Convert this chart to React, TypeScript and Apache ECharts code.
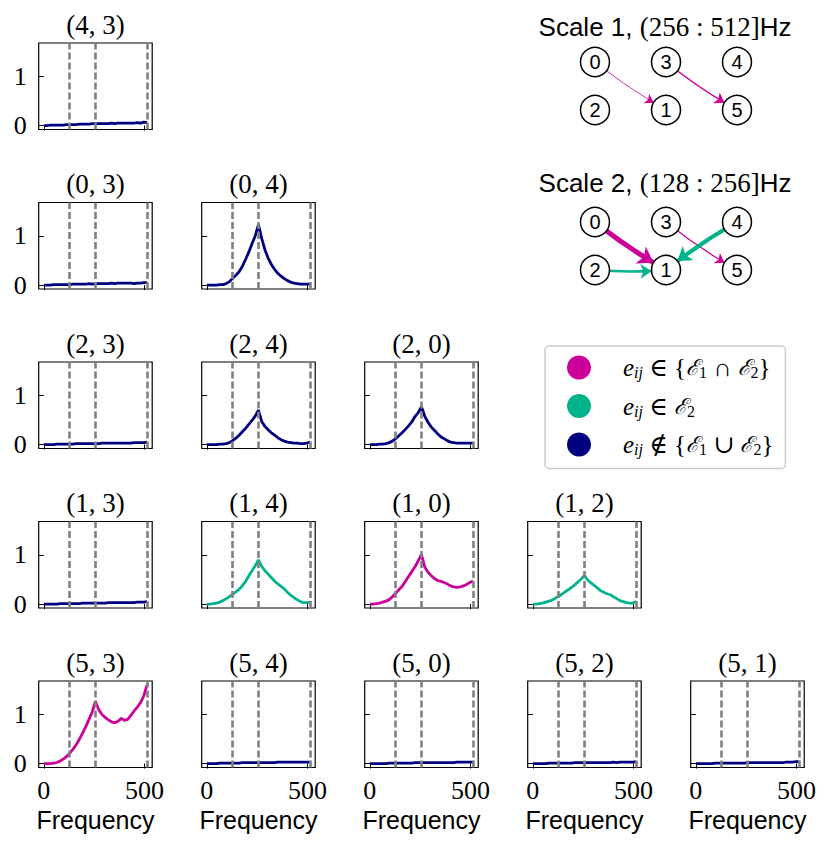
import React, { useEffect, useRef } from "react";
import * as echarts from "echarts";

// ---------- data ----------
const freqs = [0, 16, 32, 48, 64, 80, 96, 112, 128, 144, 160, 176, 192, 208, 224, 240, 256, 272, 288, 304, 320, 336, 352, 368, 384, 400, 416, 432, 448, 464, 480, 496, 512];

const s43 = [0, 0, 0.01, 0.01, 0.01, 0.01, 0.01, 0.02, 0.02, 0.02, 0.02, 0.03, 0.03, 0.03, 0.03, 0.04, 0.04, 0.04, 0.04, 0.04, 0.04, 0.05, 0.04, 0.05, 0.05, 0.05, 0.05, 0.05, 0.05, 0.06, 0.05, 0.07, 0.06];
const s03 = [0, 0, 0, 0.01, 0.01, 0.01, 0.01, 0.01, 0.01, 0.02, 0.02, 0.02, 0.02, 0.02, 0.03, 0.02, 0.03, 0.03, 0.03, 0.03, 0.03, 0.04, 0.03, 0.04, 0.04, 0.04, 0.04, 0.04, 0.03, 0.04, 0.04, 0.05, 0.05];
const s04 = [0, 0, 0, 0, 0.01, 0.01, 0.03, 0.07, 0.14, 0.2, 0.27, 0.38, 0.52, 0.67, 0.84, 1.0, 1.23, 0.95, 0.72, 0.55, 0.42, 0.32, 0.24, 0.18, 0.13, 0.09, 0.06, 0.04, 0.03, 0.02, 0.02, 0.02, 0.02];
const s23 = [0, 0, 0, 0, 0.01, 0.01, 0.01, 0.01, 0.01, 0.01, 0.02, 0.02, 0.02, 0.02, 0.02, 0.02, 0.02, 0.02, 0.03, 0.03, 0.03, 0.03, 0.03, 0.03, 0.03, 0.03, 0.03, 0.03, 0.04, 0.04, 0.04, 0.04, 0.05];
const s24 = [0, 0, 0, 0, 0.01, 0.01, 0.02, 0.04, 0.08, 0.13, 0.19, 0.26, 0.33, 0.41, 0.49, 0.58, 0.7, 0.47, 0.37, 0.3, 0.24, 0.19, 0.14, 0.1, 0.07, 0.05, 0.04, 0.03, 0.03, 0.02, 0.02, 0.03, 0.05];
const s20 = [0, 0, 0, 0.01, 0.01, 0.02, 0.04, 0.07, 0.12, 0.18, 0.24, 0.31, 0.38, 0.46, 0.57, 0.65, 0.77, 0.58, 0.46, 0.36, 0.29, 0.22, 0.16, 0.12, 0.08, 0.05, 0.04, 0.03, 0.03, 0.03, 0.03, 0.03, 0.03];
const s13 = [0, 0, 0, 0, 0, 0.01, 0.01, 0.01, 0.01, 0.01, 0.01, 0.01, 0.02, 0.02, 0.02, 0.02, 0.02, 0.02, 0.02, 0.02, 0.03, 0.03, 0.03, 0.03, 0.03, 0.03, 0.03, 0.03, 0.03, 0.04, 0.04, 0.04, 0.05];
const s14 = [0, 0, 0.01, 0.02, 0.04, 0.07, 0.11, 0.15, 0.2, 0.25, 0.3, 0.37, 0.46, 0.57, 0.68, 0.78, 0.9, 0.77, 0.68, 0.61, 0.54, 0.47, 0.41, 0.36, 0.31, 0.24, 0.18, 0.13, 0.09, 0.05, 0.03, 0.03, 0.04];
const s10 = [0, 0, 0.01, 0.02, 0.04, 0.06, 0.09, 0.15, 0.22, 0.29, 0.36, 0.46, 0.56, 0.66, 0.76, 0.88, 1.01, 0.76, 0.65, 0.58, 0.52, 0.48, 0.46, 0.44, 0.41, 0.37, 0.35, 0.34, 0.35, 0.37, 0.4, 0.44, 0.47];
const s12 = [0, 0, 0.01, 0.02, 0.04, 0.06, 0.08, 0.12, 0.16, 0.2, 0.25, 0.29, 0.34, 0.39, 0.45, 0.51, 0.58, 0.49, 0.43, 0.38, 0.33, 0.27, 0.24, 0.21, 0.19, 0.15, 0.11, 0.07, 0.05, 0.03, 0.02, 0.02, 0.05];
const s53 = [0, 0, 0, 0.01, 0.02, 0.05, 0.09, 0.14, 0.21, 0.29, 0.38, 0.49, 0.62, 0.75, 0.9, 1.05, 1.27, 1.1, 1.0, 0.94, 0.89, 0.85, 0.83, 0.86, 0.92, 0.88, 0.9, 0.98, 1.07, 1.15, 1.24, 1.38, 1.6];
const s54 = [0, 0, 0, 0, 0.01, 0.01, 0.01, 0.01, 0.01, 0.01, 0.01, 0.02, 0.02, 0.02, 0.02, 0.02, 0.02, 0.02, 0.02, 0.02, 0.02, 0.02, 0.03, 0.03, 0.03, 0.03, 0.03, 0.03, 0.03, 0.03, 0.03, 0.03, 0.03];
const s50 = [0, 0, 0, 0, 0, 0, 0.01, 0.01, 0.01, 0.01, 0.01, 0.01, 0.01, 0.01, 0.02, 0.02, 0.02, 0.02, 0.02, 0.02, 0.02, 0.02, 0.02, 0.02, 0.02, 0.02, 0.02, 0.03, 0.03, 0.03, 0.03, 0.03, 0.03];
const s52 = [0, 0, 0, 0, 0, 0.01, 0.01, 0.01, 0.01, 0.01, 0.01, 0.01, 0.01, 0.02, 0.02, 0.02, 0.02, 0.02, 0.02, 0.02, 0.02, 0.02, 0.02, 0.02, 0.02, 0.03, 0.02, 0.03, 0.03, 0.03, 0.03, 0.03, 0.04];
const s51 = [0, 0, 0, 0, 0, 0, 0.01, 0.01, 0.01, 0.01, 0.01, 0.01, 0.01, 0.01, 0.01, 0.01, 0.02, 0.02, 0.02, 0.02, 0.02, 0.02, 0.02, 0.02, 0.02, 0.02, 0.02, 0.02, 0.03, 0.03, 0.03, 0.04, 0.04];

const bandEdges = [128, 256, 512];
const xTicks = [0, 500];
const yTicks = [0, 1];

// group: "both" = in E1∩E2, "s2" = in E2, "none" = not in E1∪E2
const panels = [
  { title: "(4, 3)", row: 0, col: 0, values: s43, group: "none" },
  { title: "(0, 3)", row: 1, col: 0, values: s03, group: "none" },
  { title: "(0, 4)", row: 1, col: 1, values: s04, group: "none" },
  { title: "(2, 3)", row: 2, col: 0, values: s23, group: "none" },
  { title: "(2, 4)", row: 2, col: 1, values: s24, group: "none" },
  { title: "(2, 0)", row: 2, col: 2, values: s20, group: "none" },
  { title: "(1, 3)", row: 3, col: 0, values: s13, group: "none" },
  { title: "(1, 4)", row: 3, col: 1, values: s14, group: "s2" },
  { title: "(1, 0)", row: 3, col: 2, values: s10, group: "both" },
  { title: "(1, 2)", row: 3, col: 3, values: s12, group: "s2" },
  { title: "(5, 3)", row: 4, col: 0, values: s53, group: "both" },
  { title: "(5, 4)", row: 4, col: 1, values: s54, group: "none" },
  { title: "(5, 0)", row: 4, col: 2, values: s50, group: "none" },
  { title: "(5, 2)", row: 4, col: 3, values: s52, group: "none" },
  { title: "(5, 1)", row: 4, col: 4, values: s51, group: "none" },
];

// network diagrams
const nodeNames = ["0", "3", "4", "2", "1", "5"];
const nodeCols = [0, 1, 2, 0, 1, 2];
const nodeRows = [1, 1, 1, 0, 0, 0];
const scale1Edges = [
  { source: "0", target: "1", width: 0.8, group: "both" },
  { source: "3", target: "5", width: 1.5, group: "both" },
];
const scale2Edges = [
  { source: "0", target: "1", width: 5, group: "both" },
  { source: "3", target: "5", width: 1.2, group: "both" },
  { source: "2", target: "1", width: 2.5, group: "s2" },
  { source: "4", target: "1", width: 4, group: "s2" },
];

const COLORS: Record<string, string> = { both: "#CC0099", s2: "#00B38A", none: "#000080" };
const SERIF = "'Liberation Serif', 'DejaVu Serif', serif";
const SANS = "'Liberation Sans', 'DejaVu Sans', sans-serif";

export default function App() {
  const ref = useRef<HTMLDivElement>(null);
  useEffect(() => {
    document.body.style.margin = "0";
    const chart = echarts.init(ref.current!, null, { renderer: "svg" });

    const GL = 38.7, GT = 43, GW = 113.5, GH = 86.5, CP = 163, RP = 159.5;
    const grids: any[] = [];
    const xAxes: any[] = [];
    const yAxes: any[] = [];
    const series: any[] = [];
    const titles: any[] = [];

    panels.forEach((p, i) => {
      const left = GL + CP * p.col;
      const top = GT + RP * p.row;
      grids.push({ left, top, width: GW, height: GH, show: true, borderColor: "#000", borderWidth: 1.2, backgroundColor: "transparent", containLabel: false });
      const bottom = p.row === 4;
      xAxes.push({
        gridIndex: i, type: "value", min: -25.6, max: 537.6,
        axisLine: { show: false },
        splitLine: { show: false },
        axisTick: { show: true, customValues: xTicks, length: 5, lineStyle: { color: "#000", width: 1 } },
        axisLabel: { show: bottom, customValues: xTicks, margin: 10, fontFamily: SERIF, fontSize: 26, color: "#000" },
        name: bottom ? "Frequency" : "", nameLocation: "middle", nameGap: 40,
        nameTextStyle: { fontFamily: SANS, fontSize: 25, color: "#000" },
      });
      yAxes.push({
        gridIndex: i, type: "value", min: -0.08, max: 1.68,
        axisLine: { show: false },
        splitLine: { show: false },
        axisTick: { show: true, customValues: yTicks, length: 5, lineStyle: { color: "#000", width: 1 } },
        axisLabel: { show: p.col === 0, customValues: yTicks, margin: 12, fontFamily: SERIF, fontSize: 26, color: "#000" },
      });
      const c = COLORS[p.group];
      series.push({
        type: "line", name: p.group, xAxisIndex: i, yAxisIndex: i,
        data: freqs.map((f, k) => [f, p.values[k]]),
        showSymbol: false, symbol: "none", silent: true,
        color: c, itemStyle: { color: c }, lineStyle: { color: c, width: 2.8 },
        markLine: {
          silent: true, symbol: ["none", "none"], label: { show: false },
          lineStyle: { color: "#808080", type: [7, 3], width: 2.6 },
          emphasis: { disabled: true },
          data: bandEdges.map((b) => ({ xAxis: b })),
        },
        z: 2,
      });
      titles.push({
        text: p.title, left: left + GW / 2, top: top - 32, textAlign: "center", padding: 0,
        textStyle: { fontFamily: SERIF, fontSize: 27, fontWeight: "normal", color: "#000" },
      });
    });

    // network grids
    const netTops = [62, 222];
    const netEdges = [scale1Edges, scale2Edges];
    netTops.forEach((t, k) => {
      const gi = grids.length;
      grids.push({ left: 595, top: t, width: 142, height: 48, show: false });
      xAxes.push({ gridIndex: gi, type: "value", min: 0, max: 2, show: false });
      yAxes.push({ gridIndex: gi, type: "value", min: 0, max: 1, show: false });
      series.push({
        type: "graph", coordinateSystem: "cartesian2d", xAxisIndex: gi, yAxisIndex: gi,
        layout: "none", silent: true, z: 3,
        symbol: "circle", symbolSize: 29,
        itemStyle: { color: "#fff", borderColor: "#000", borderWidth: 1.5 },
        label: { show: true, position: "inside", color: "#000", fontFamily: SANS, fontSize: 20, formatter: "{b}" },
        edgeSymbol: ["none", "arrow"],
        data: nodeNames.map((n, j) => ({ name: n, value: [nodeCols[j], nodeRows[j]] })),
        links: netEdges[k].map((e) => ({
          source: e.source, target: e.target,
          symbolSize: [0, 7 + 1.6 * e.width],
          lineStyle: { color: COLORS[e.group], width: e.width, curveness: -0.04, opacity: 1 },
        })),
        emphasis: { disabled: true },
      });
    });

    const scaleTitles = [
      ["1", "(256 : 512]"],
      ["2", "(128 : 256]"],
    ];
    const scaleTitleTops = [12, 168];
    scaleTitles.forEach((st, k) => {
      titles.push({
        text: `{sa|Scale ${st[0]}, }{m|${st[1]}}{sa|Hz}`,
        left: 665, top: scaleTitleTops[k], textAlign: "center", padding: 0,
        textStyle: {
          fontWeight: "normal",
          rich: {
            sa: { fontFamily: SANS, fontSize: 26, fontWeight: "normal", color: "#000", lineHeight: 30 },
            m: { fontFamily: SERIF, fontSize: 27, fontWeight: "normal", color: "#000", lineHeight: 30 },
          },
        },
      });
    });

    const legendText: Record<string, string> = {
      both: "{sp|}{e|e}{s|ij}{t| ∈ {}{E|ℰ}{n|1}{t| ∩ }{E|ℰ}{n|2}}",
      s2: "{sp|}{e|e}{s|ij}{t| ∈ }{E|ℰ}{n|2}",
      none: "{sp|}{e|e}{s|ij}{t| ∉ {}{E|ℰ}{n|1}{t| ∪ }{E|ℰ}{n|2}}",
    };

    const option: any = {
      animation: false,
      title: titles,
      grid: grids,
      xAxis: xAxes,
      yAxis: yAxes,
      series,
      legend: {
        show: true, left: 545, top: 346, orient: "vertical",
        data: ["both", "s2", "none"], icon: "circle",
        itemWidth: 24, itemHeight: 24, itemGap: 13,
        padding: [9, 12, 11, 22],
        borderColor: "#cccccc", borderWidth: 1.5, borderRadius: 4,
        selectedMode: false,
        formatter: (name: string) => legendText[name],
        textStyle: {
          fontFamily: SERIF, fontSize: 25, color: "#000",
          rich: {
            sp: { width: 27 },
            e: { fontFamily: SERIF, fontStyle: "italic", fontSize: 25, lineHeight: 26, verticalAlign: "middle" },
            s: { fontFamily: SERIF, fontStyle: "italic", fontSize: 16, lineHeight: 14, verticalAlign: "bottom" },
            n: { fontFamily: SERIF, fontSize: 16, lineHeight: 14, verticalAlign: "bottom" },
            t: { fontFamily: SERIF, fontSize: 25, lineHeight: 26, verticalAlign: "middle" },
            E: { fontFamily: "'DejaVu Serif', serif", fontStyle: "italic", fontSize: 22, lineHeight: 26, verticalAlign: "middle" },
          },
        },
      },
    };
    chart.setOption(option);
    return () => chart.dispose();
  }, []);
  return <div ref={ref} style={{ width: 830, height: 853 }} />;
}
